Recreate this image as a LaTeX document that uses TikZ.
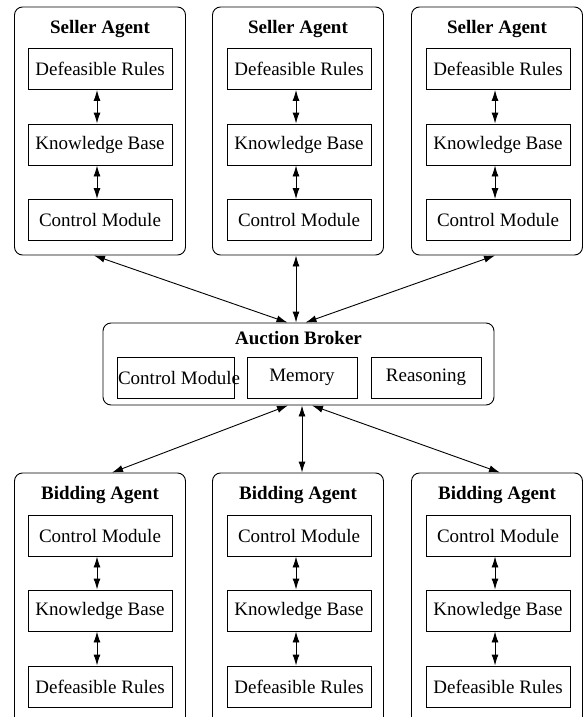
\documentclass[tikz,border=0pt]{standalone}
\usepackage{fontspec}
\setmainfont{Liberation Serif}
\usetikzlibrary{arrows.meta}

\begin{document}
\begin{tikzpicture}[x=1pt, y=-1pt, font=\fontsize{19}{22}\selectfont,
    agent/.style={draw, rounded corners=8pt, minimum width=171pt, minimum height=248pt, line width=0.9pt},
    part/.style={draw, minimum width=144pt, minimum height=41pt, inner sep=0pt, line width=0.9pt},
    title/.style={font=\fontsize{19}{22}\selectfont\bfseries},
    link/.style={{Latex[length=11pt,width=7pt]}-{Latex[length=11pt,width=7pt]}, line width=0.9pt}]
    \useasboundingbox (0,0) rectangle (585,717);
    \clip (0,0) rectangle (585,717);
    % seller agents
    \node [agent] (seller1) at (100,131) {};
    \node [agent] (seller2) at (298,131) {};
    \node [agent] (seller3) at (497,131) {};
    \node [title] (stitle1) at (100,29) {Seller Agent};
    \node [title] (stitle2) at (298,29) {Seller Agent};
    \node [title] (stitle3) at (497,29) {Seller Agent};
    \node [part] (srules1) at (100,69) {Defeasible Rules};
    \node [part] (skb1) at (100,144.5) {Knowledge Base};
    \node [part] (scontrol1) at (100,220) {Control Module};
    \node [part] (srules2) at (299,69) {Defeasible Rules};
    \node [part] (skb2) at (299,144.5) {Knowledge Base};
    \node [part] (scontrol2) at (299,220) {Control Module};
    \node [part] (srules3) at (498,69) {Defeasible Rules};
    \node [part] (skb3) at (498,144.5) {Knowledge Base};
    \node [part] (scontrol3) at (498,220) {Control Module};
    \draw [link] ([xshift=-3pt]srules1.south) -- ([xshift=-3pt]skb1.north);
    \draw [link] ([xshift=-3pt]skb1.south) -- ([xshift=-3pt]scontrol1.north);
    \draw [link] ([xshift=-3pt]srules2.south) -- ([xshift=-3pt]skb2.north);
    \draw [link] ([xshift=-3pt]skb2.south) -- ([xshift=-3pt]scontrol2.north);
    \draw [link] ([xshift=-3pt]srules3.south) -- ([xshift=-3pt]skb3.north);
    \draw [link] ([xshift=-3pt]skb3.south) -- ([xshift=-3pt]scontrol3.north);
    % auction broker
    \node [draw, rounded corners=8pt, minimum width=391pt, minimum height=82pt, line width=0.9pt] (broker) at (298.5,364) {};
    \node [title] (btitle) at (298.5,338) {Auction Broker};
    \node [part, minimum width=117pt] (bcontrol) at (175.5,377.5) {};
    \node (bcontroltext) at (179,377.5) {Control Module};
    \node [part, minimum width=110pt] (memory) at (302,377.5) {Memory};
    \node [part, minimum width=110pt] (reasoning) at (426,377.5) {Reasoning};
    \draw [link] ([xshift=-6pt]seller1.south) -- ([xshift=-11pt]broker.north);
    \draw [link] ([xshift=-2pt]seller2.south) -- ([xshift=-2.5pt]broker.north);
    \draw [link] ([xshift=-2pt]seller3.south) -- ([xshift=7pt]broker.north);
    % bidding agents
    \node [agent, minimum height=252pt] (bidder1) at (100,599) {};
    \node [agent, minimum height=252pt] (bidder2) at (298,599) {};
    \node [agent, minimum height=252pt] (bidder3) at (497,599) {};
    \node [title] (btitle1) at (100,495) {Bidding Agent};
    \node [title] (btitle2) at (298,495) {Bidding Agent};
    \node [title] (btitle3) at (497,495) {Bidding Agent};
    \node [part] (bcontrol1) at (100,535.5) {Control Module};
    \node [part] (bkb1) at (100,610.5) {Knowledge Base};
    \node [part] (brules1) at (100,686.5) {Defeasible Rules};
    \node [part] (bcontrol2) at (299,535.5) {Control Module};
    \node [part] (bkb2) at (299,610.5) {Knowledge Base};
    \node [part] (brules2) at (299,686.5) {Defeasible Rules};
    \node [part] (bcontrol3) at (498,535.5) {Control Module};
    \node [part] (bkb3) at (498,610.5) {Knowledge Base};
    \node [part] (brules3) at (498,686.5) {Defeasible Rules};
    \draw [link] ([xshift=-3pt]bcontrol1.south) -- ([xshift=-3pt]bkb1.north);
    \draw [link] ([xshift=-3pt]bkb1.south) -- ([xshift=-3pt]brules1.north);
    \draw [link] ([xshift=-3pt]bcontrol2.south) -- ([xshift=-3pt]bkb2.north);
    \draw [link] ([xshift=-3pt]bkb2.south) -- ([xshift=-3pt]brules2.north);
    \draw [link] ([xshift=-3pt]bcontrol3.south) -- ([xshift=-3pt]bkb3.north);
    \draw [link] ([xshift=-3pt]bkb3.south) -- ([xshift=-3pt]brules3.north);
    \draw [link] ([xshift=-10.5pt]broker.south) -- ([xshift=12pt]bidder1.north);
    \draw [link] ([xshift=3.5pt]broker.south) -- ([xshift=4pt]bidder2.north);
    \draw [link] ([xshift=13.5pt]broker.south) -- ([xshift=3pt]bidder3.north);
\end{tikzpicture}
\end{document}
